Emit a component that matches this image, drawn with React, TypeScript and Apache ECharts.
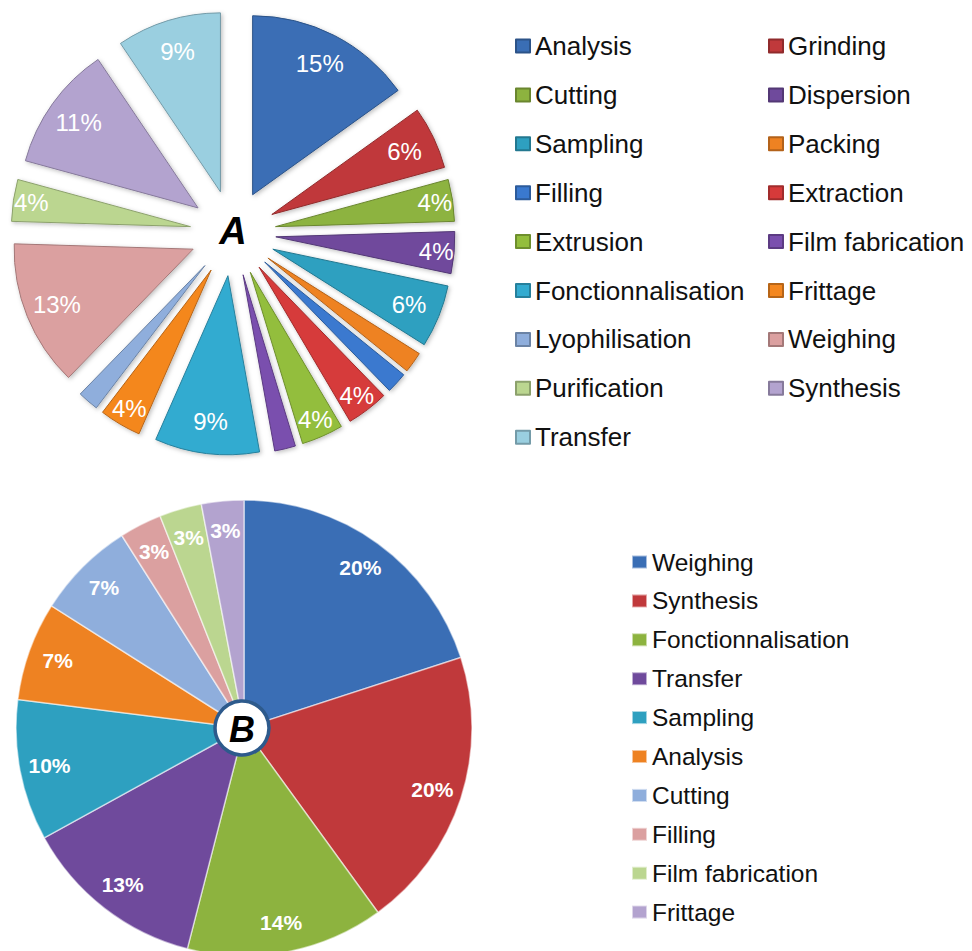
import React, { useEffect, useRef } from 'react';
import * as echarts from 'echarts';

// ---- Chart A data (counts of studies, total 53) ----
const categoriesA = [
  'Analysis', 'Grinding', 'Cutting', 'Dispersion', 'Sampling', 'Packing',
  'Filling', 'Extraction', 'Extrusion', 'Film fabrication', 'Fonctionnalisation',
  'Frittage', 'Lyophilisation', 'Weighing', 'Purification', 'Synthesis', 'Transfer',
];
const countsA = [8, 3, 2, 2, 3, 1, 1, 2, 2, 1, 5, 2, 1, 7, 2, 6, 5];
const colorsA = [
  '#3A6EB5', '#C0393B', '#8DB33F', '#6F4A9C', '#2EA0C0', '#EE8222',
  '#3A79CF', '#D63A3A', '#93BE3C', '#7A4FAE', '#33ABD0',
  '#F4871F', '#8FAEDC', '#DBA0A0', '#BBD690', '#B3A3CF', '#9ACFE0',
];

// ---- Chart B data (percentages) ----
const categoriesB = [
  'Weighing', 'Synthesis', 'Fonctionnalisation', 'Transfer', 'Sampling',
  'Analysis', 'Cutting', 'Filling', 'Film fabrication', 'Frittage',
];
const percentB = [20, 20, 14, 13, 10, 7, 7, 3, 3, 3];
const colorsB = [
  '#3A6EB5', '#C0393B', '#8DB33F', '#6F4A9C', '#2EA0C0',
  '#EE8222', '#8FAEDC', '#DBA0A0', '#BBD690', '#B3A3CF',
];

const FONT = '"Liberation Sans", Arial, sans-serif';
const B_PREFIX = 'B:';

function darken(hex: string, f: number) {
  const n = parseInt(hex.slice(1), 16);
  const r = Math.round(((n >> 16) & 255) * f);
  const g = Math.round(((n >> 8) & 255) * f);
  const b = Math.round((n & 255) * f);
  return `rgb(${r},${g},${b})`;
}

export default function App() {
  const ref = useRef<HTMLDivElement>(null);

  useEffect(() => {
    if (!ref.current) return;
    const chart = echarts.init(ref.current, undefined, { renderer: 'svg' });

    const centerA = [233, 233];
    const centerB = [244, 728];

    const dataA = categoriesA.map((name, i) => ({
      name,
      value: countsA[i],
      selected: true,
      itemStyle: {
        color: colorsA[i],
        borderColor: darken(colorsA[i], 0.75),
        borderWidth: 1,
      },
    }));
    // labels of the wider slices sit a little further in than those of narrow slices
    const labelDataA = (wide: boolean) =>
      categoriesA.map((name, i) => ({
        name,
        value: countsA[i],
        itemStyle: { color: 'rgba(0,0,0,0)' },
        label: { show: wide ? countsA[i] >= 3 : countsA[i] === 2 },
      }));
    const namesB = categoriesB.map((c) => B_PREFIX + c);
    const dataB = namesB.map((name, i) => ({
      name,
      value: percentB[i],
      itemStyle: {
        color: colorsB[i],
        borderColor: 'rgba(255,255,255,0.55)',
        borderWidth: 1.5,
      },
    }));
    const labelDataB = namesB.map((name, i) => ({
      name,
      value: percentB[i],
      itemStyle: { color: 'rgba(0,0,0,0)' },
    }));

    const legendCommon = {
      orient: 'vertical',
      icon: 'rect',
      padding: 0,
      selectedMode: false,
    };

    const labelA = {
      show: true,
      position: 'inside',
      color: '#ffffff',
      fontSize: 24,
      fontFamily: FONT,
      formatter: (p: any) => `${Math.round(p.percent)}%`,
    };

    chart.setOption({
      animation: false,
      backgroundColor: '#ffffff',
      legend: [
        {
          ...legendCommon,
          left: 515,
          top: 31,
          itemWidth: 14,
          itemHeight: 13,
          itemGap: 18.9,
          data: categoriesA.filter((_, i) => i % 2 === 0),
          textStyle: { fontSize: 26, lineHeight: 30, color: '#111', fontFamily: FONT },
        },
        {
          ...legendCommon,
          left: 768,
          top: 31,
          itemWidth: 14,
          itemHeight: 13,
          itemGap: 18.9,
          data: categoriesA.filter((_, i) => i % 2 === 1),
          textStyle: { fontSize: 26, lineHeight: 30, color: '#111', fontFamily: FONT },
        },
        {
          ...legendCommon,
          left: 631,
          top: 548,
          itemWidth: 15,
          itemHeight: 13,
          itemGap: 10.9,
          data: namesB,
          formatter: (n: string) => n.slice(B_PREFIX.length),
          textStyle: { fontSize: 24.5, lineHeight: 28, color: '#111', fontFamily: FONT },
        },
      ],
      graphic: [
        {
          type: 'text',
          x: 233,
          y: 231,
          z: 100,
          style: {
            text: 'A',
            fill: '#000',
            fontSize: 38,
            fontWeight: 'bold',
            fontStyle: 'italic',
            fontFamily: FONT,
            align: 'center',
            verticalAlign: 'middle',
            textAlign: 'center',
            textVerticalAlign: 'middle',
          },
        },
        {
          type: 'circle',
          z: 100,
          shape: { cx: 242, cy: 728, r: 27 },
          style: { fill: '#ffffff', stroke: '#2D5A8C', lineWidth: 3.5 },
        },
        {
          type: 'text',
          x: 242,
          y: 729,
          z: 101,
          style: {
            text: 'B',
            fill: '#000',
            fontSize: 36,
            fontWeight: 'bold',
            fontStyle: 'italic',
            fontFamily: FONT,
            align: 'center',
            verticalAlign: 'middle',
            textAlign: 'center',
            textVerticalAlign: 'middle',
          },
        },
      ],
      series: [
        {
          type: 'pie',
          name: 'A',
          center: centerA,
          radius: [0, 179],
          startAngle: 90,
          clockwise: true,
          selectedMode: 'multiple',
          selectedOffset: 43,
          avoidLabelOverlap: false,
          label: { show: false },
          labelLine: { show: false },
          emphasis: { scale: false },
          itemStyle: {
            shadowBlur: 4,
            shadowColor: 'rgba(0,0,0,0.25)',
            shadowOffsetX: 1.5,
            shadowOffsetY: 1.5,
          },
          data: dataA,
        },
        {
          type: 'pie',
          name: 'A labels wide',
          center: centerA,
          radius: [162, 212],
          startAngle: 90,
          clockwise: true,
          silent: true,
          avoidLabelOverlap: false,
          labelLine: { show: false },
          label: labelA,
          data: labelDataA(true),
          z: 5,
        },
        {
          type: 'pie',
          name: 'A labels narrow',
          center: centerA,
          radius: [176, 226],
          startAngle: 90,
          clockwise: true,
          silent: true,
          avoidLabelOverlap: false,
          labelLine: { show: false },
          label: labelA,
          data: labelDataA(false),
          z: 5,
        },
        {
          type: 'pie',
          name: 'B',
          center: centerB,
          radius: [0, 228],
          startAngle: 90,
          clockwise: true,
          avoidLabelOverlap: false,
          label: { show: false },
          labelLine: { show: false },
          emphasis: { scale: false },
          data: dataB,
        },
        {
          type: 'pie',
          name: 'B labels',
          center: centerB,
          radius: [170, 220],
          startAngle: 90,
          clockwise: true,
          silent: true,
          avoidLabelOverlap: false,
          labelLine: { show: false },
          label: {
            show: true,
            position: 'inside',
            color: '#ffffff',
            fontSize: 21,
            fontWeight: 'bold',
            fontFamily: FONT,
            formatter: (p: any) => `${Math.round(p.percent)}%`,
          },
          data: labelDataB,
          z: 5,
        },
      ],
    });

    return () => chart.dispose();
  }, []);

  return (
    <div
      ref={ref}
      style={{ position: 'absolute', left: 0, top: 0, width: 972, height: 951 }}
    />
  );
}
